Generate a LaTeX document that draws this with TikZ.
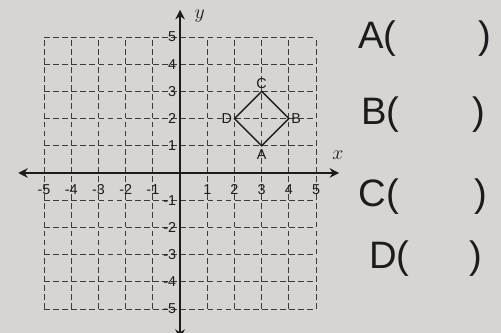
\documentclass[tikz,border=0pt]{standalone}
\usepackage{fontspec}
\setmainfont{Liberation Sans}
\usetikzlibrary{arrows.meta,positioning}
\definecolor{paper}{RGB}{214,213,209}
\definecolor{ink}{RGB}{28,28,28}
\definecolor{gridink}{RGB}{60,60,60}

\begin{document}
\begin{tikzpicture}[>={Stealth[length=10pt,width=10pt]}, font=\fontsize{15}{15}\selectfont]
    \fill[paper] (-6.62,-5.88) rectangle (11.80,6.36);
    \useasboundingbox (-6.62,-5.88) rectangle (11.80,6.36);

    \draw[gridink, line width=0.8pt, dash pattern=on 6pt off 3.5pt] (-5,-5) grid (5,5);

    \coordinate (xl) at (-5.95,0);
    \coordinate (xr) at (5.85,0);
    \coordinate (yb) at (0,-6.1);
    \coordinate (yt) at (0,6.0);
    \draw[<->, ink, line width=1.6pt] (xl) -- (xr);
    \draw[<->, ink, line width=1.6pt] (yb) -- (yt);
    \node[ink, font=\fontsize{20}{20}\selectfont] (xlab) at (5.8,0.66) {$x$};
    \node[ink, font=\fontsize{20}{20}\selectfont] (ylab) at (0.72,5.75) {$y$};

    \foreach \i in {-5,-4,-3,-2,-1,1,2,3,4,5} {
        \node[ink] (tx\i) at (\i,-0.6) {\i};
        \node[ink, anchor=east, inner sep=1pt] (ty\i) at (-0.1,\i) {\i};
    }

    \coordinate (A) at (3,1);
    \coordinate (B) at (4,2);
    \coordinate (C) at (3,3);
    \coordinate (D) at (2,2);
    \draw[ink, line width=1.5pt] (A) -- (B) -- (C) -- (D) -- cycle;
    \node[ink, below=0pt of A] (la) {A};
    \node[ink, right=-1pt of B] (lb) {B};
    \node[ink, above=-1pt of C] (lc) {C};
    \node[ink, left=-1pt of D] (ld) {D};

    \node[ink, anchor=west, inner sep=0pt, font=\fontsize{40}{40}\selectfont] (ansA) at (6.55,4.93) {A(\hspace{3.0cm})};
    \node[ink, anchor=west, inner sep=0pt, font=\fontsize{40}{40}\selectfont] (ansB) at (6.65,2.13) {B(\hspace{2.7cm})};
    \node[ink, anchor=west, inner sep=0pt, font=\fontsize{40}{40}\selectfont] (ansC) at (6.55,-0.88) {C(\hspace{2.8cm})};
    \node[ink, anchor=west, inner sep=0pt, font=\fontsize{40}{40}\selectfont] (ansD) at (6.95,-3.13) {D(\hspace{2.2cm})};
\end{tikzpicture}
\end{document}
